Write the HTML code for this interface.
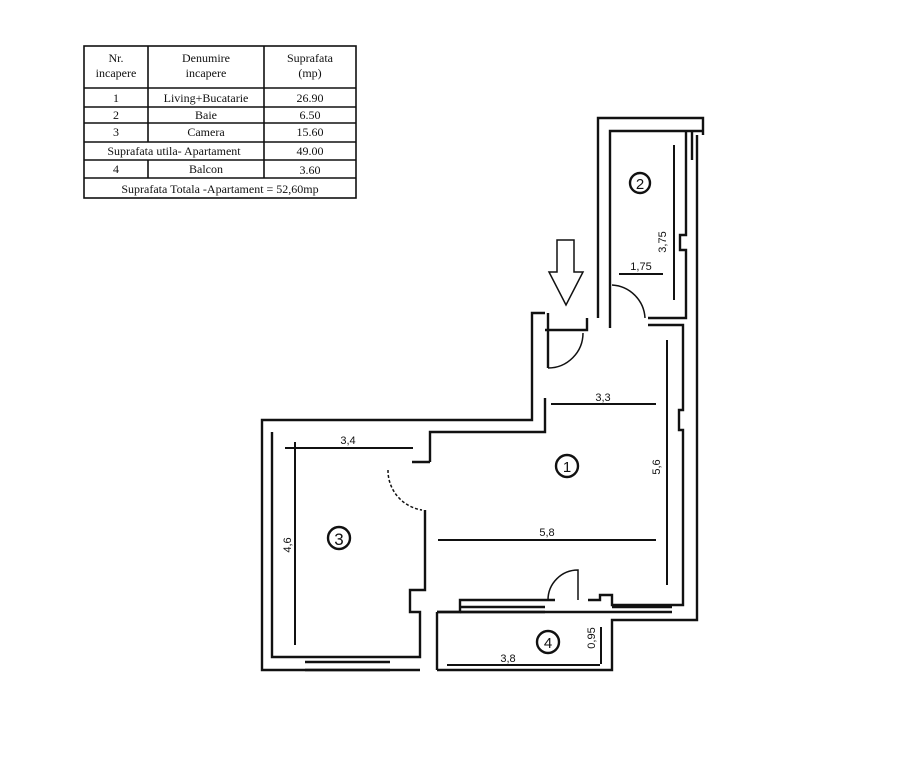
<!DOCTYPE html>
<html><head><meta charset="utf-8"><style>
body{margin:0;background:#fff;width:900px;height:768px;overflow:hidden;font-family:"Liberation Serif",serif}
svg{position:absolute;left:0;top:0}
</style></head><body>
<svg width="900" height="768" viewBox="0 0 900 768" fill="none" stroke="#111" stroke-width="2.4">
<!-- table -->
<g stroke-width="1.6">
<rect x="84" y="46" width="272" height="152"/>
<line x1="84" y1="88" x2="356" y2="88"/>
<line x1="84" y1="107" x2="356" y2="107"/>
<line x1="84" y1="123" x2="356" y2="123"/>
<line x1="84" y1="142" x2="356" y2="142"/>
<line x1="84" y1="160" x2="356" y2="160"/>
<line x1="84" y1="178" x2="356" y2="178"/>
<line x1="148" y1="46" x2="148" y2="142"/>
<line x1="148" y1="160" x2="148" y2="178"/>
<line x1="264" y1="46" x2="264" y2="178"/>
</g>
<g fill="#111" stroke="none" font-family="Liberation Serif,serif" font-size="12" text-anchor="middle">
<text x="116" y="62">Nr.</text><text x="116" y="77">incapere</text>
<text x="206" y="62">Denumire</text><text x="206" y="77">incapere</text>
<text x="310" y="62">Suprafata</text><text x="310" y="77">(mp)</text>
<text x="116" y="102">1</text><text x="206" y="102">Living+Bucatarie</text><text x="310" y="102">26.90</text>
<text x="116" y="119">2</text><text x="206" y="119">Baie</text><text x="310" y="119">6.50</text>
<text x="116" y="136">3</text><text x="206" y="136">Camera</text><text x="310" y="136">15.60</text>
<text x="174" y="155">Suprafata utila- Apartament</text><text x="310" y="155">49.00</text>
<text x="116" y="173">4</text><text x="206" y="173">Balcon</text><text x="310" y="174">3.60</text>
<text x="220" y="193">Suprafata Totala -Apartament = 52,60mp</text>
</g>
<!-- outer walls -->
<polyline points="598,318 598,118 703,118 703,135"/>
<polyline points="697,135 697,620 612,620 612,670 437,670"/>
<polyline points="420,670 262,670 262,420 532,420 532,313 545,313"/>
<!-- inner -->
<polyline points="610,318 610,131 703,131"/>
<polyline points="686,160 686,235 680,235 680,250 686,250 686,318 648,318"/>
<polyline points="587,318 587,330 545,330"/>
<polyline points="548,313 548,368"/>
<polyline points="545,398 545,432 430,432 430,462"/>
<polyline points="610,318 610,328"/>
<polyline points="648,325 683,325 683,410 679,410 679,430 683,430 683,605 612,605 612,595 600,595 600,600 588,600"/>
<polyline points="555,600 460,600 460,612 437,612"/>
<polyline points="272,432 272,657 420,657 420,612 410,612 410,590 425,590 425,510"/>
<polyline points="412,462 430,462"/>
<polyline points="437,612 437,670"/>
<polyline points="437,612 612,612"/>
<line x1="460" y1="612" x2="545" y2="612"/>
<line x1="460" y1="607" x2="545" y2="607"/>
<line x1="612" y1="612" x2="672" y2="612"/>
<line x1="612" y1="607" x2="672" y2="607"/>
<line x1="305" y1="662" x2="390" y2="662"/>
<line x1="305" y1="670" x2="390" y2="670"/>
<line x1="686" y1="131" x2="686" y2="160"/>
<line x1="692" y1="131" x2="692" y2="160"/>
<!-- doors -->
<path d="M548 368 A35 35 0 0 0 583 333" stroke-width="1.5"/>
<path d="M612 285 A35 35 0 0 1 645 318" stroke-width="1.5"/>
<path d="M388 470 A40 40 0 0 0 422 510" stroke-width="1.5" stroke-dasharray="3 2"/>
<path d="M548 600 A30 30 0 0 1 578 570 L578 600" stroke-width="1.5"/>
<!-- entry arrow -->
<path d="M557 240 L574 240 L574 272 L583 272 L566 305 L549 272 L557 272 Z" stroke-width="1.5"/>
<!-- dims -->
<g stroke-width="2">
<line x1="619" y1="274" x2="663" y2="274"/>
<line x1="674" y1="145" x2="674" y2="300"/>
<line x1="551" y1="404" x2="656" y2="404"/>
<line x1="667" y1="340" x2="667" y2="585"/>
<line x1="285" y1="448" x2="413" y2="448"/>
<line x1="295" y1="442" x2="295" y2="645"/>
<line x1="438" y1="540" x2="656" y2="540"/>
<line x1="447" y1="665" x2="600" y2="665"/>
<line x1="601" y1="627" x2="601" y2="664"/>
</g>
<circle cx="640" cy="183" r="10"/><circle cx="567" cy="466" r="11"/>
<circle cx="339" cy="538" r="11"/><circle cx="548" cy="642" r="11"/>
<g fill="#111" stroke="none" font-family="Liberation Sans,sans-serif" font-size="11" text-anchor="middle">
<text x="640" y="189" font-size="15">2</text>
<text x="567" y="472" font-size="15">1</text>
<text x="339" y="545" font-size="17">3</text>
<text x="548" y="648" font-size="15">4</text>
<text x="641" y="270">1,75</text>
<text x="603" y="401">3,3</text>
<text x="348" y="444">3,4</text>
<text x="547" y="536">5,8</text>
<text x="508" y="662">3,8</text>
<text transform="translate(666,242) rotate(-90)">3,75</text>
<text transform="translate(660,467) rotate(-90)">5,6</text>
<text transform="translate(291,545) rotate(-90)">4,6</text>
<text transform="translate(595,638) rotate(-90)">0,95</text>
</g>
</svg>
</body></html>
